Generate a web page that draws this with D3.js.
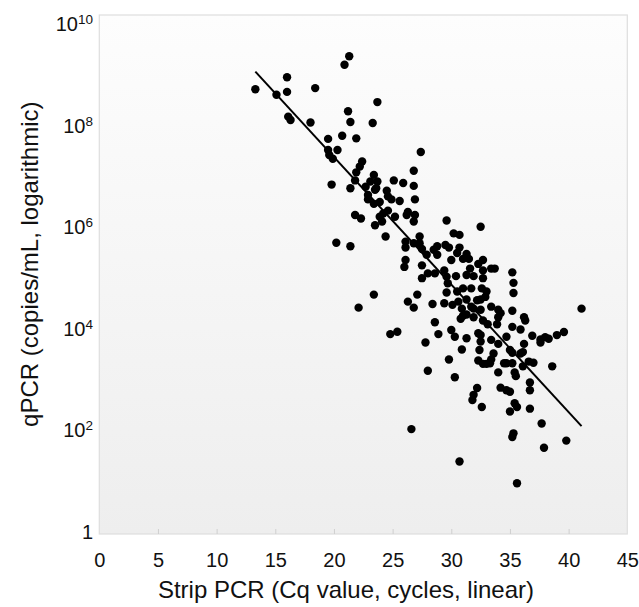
<!DOCTYPE html>
<html><head><meta charset="utf-8">
<script src="https://cdn.jsdelivr.net/npm/d3@7"></script>
<style>
body{margin:0;background:#fff}
svg{display:block}
text{font-family:"Liberation Sans",Arial,Helvetica,sans-serif;fill:#111}
</style>
</head><body>
<svg id="chart" width="639" height="607"></svg>
<script>
// Strip PCR Cq value (cycles)
const cq = [
13.3,15.1,16.0,16.0,16.1,16.3,18.4,18.0,20.9,21.3,
23.7,21.2,21.4,23.3,19.5,20.7,21.9,19.5,20.3,19.6,
19.9,27.4,22.4,22.2,21.9,21.8,19.8,21.4,23.4,23.1,
23.7,25.1,25.9,22.7,23.6,24.5,26.8,26.8,23.5,22.9,
24.6,22.9,23.4,23.9,24.9,25.6,26.9,26.3,26.9,24.6,
24.2,23.9,25.2,26.2,26.8,24.1,23.5,21.8,22.3,24.4,
29.6,32.5,30.2,30.7,20.2,21.4,27.3,26.1,26.1,26.8,
27.3,27.5,28.8,29.5,29.8,30.7,28.5,27.9,28.8,30.5,
31.3,31.5,31.0,30.0,32.7,32.3,26.1,26.0,27.5,29.4,
28.0,28.6,31.6,32.7,33.4,33.7,29.6,30.4,31.3,31.9,
27.5,32.7,29.7,29.6,30.5,31.0,31.7,32.6,33.0,27.1,
23.4,26.3,22.1,26.8,28.4,29.4,30.1,30.6,31.3,31.7,
32.5,32.9,32.2,31.9,32.5,30.9,31.0,30.8,31.3,31.9,
32.7,33.4,34.0,34.2,34.0,35.2,35.2,35.3,35.3,33.9,
35.2,35.9,36.2,36.3,34.7,36.9,37.6,38.0,38.3,39.0,
39.6,41.1,28.6,28.9,30.0,30.3,31.3,32.3,32.5,33.4,
34.0,32.4,33.6,30.9,35.0,35.9,36.1,34.7,35.2,32.3,
32.7,33.3,33.4,34.5,36.6,37.0,38.6,29.8,34.0,35.4,
35.5,36.1,30.3,36.7,36.7,34.2,34.7,35.0,32.2,31.9,
31.8,32.6,35.4,35.6,36.7,35.0,37.7,26.6,35.3,35.2,
37.9,39.8,30.7,35.6,24.8,25.4,27.8,28.0,32.5,33.1,
35.2,36.2,37.6,33.0
];
// qPCR copies/mL
const copies = [
3.7e8,2.9e8,6.3e8,3.3e8,1.1e8,9.5e7,3.9e8,8.5e7,1.1e9,1.6e9,
2.1e8,1.4e8,8.7e7,8.3e7,4.1e7,4.7e7,4.2e7,2.5e7,2.5e7,2.0e7,
1.7e7,2.3e7,1.5e7,1.2e7,9.3e6,6.5e6,5.4e6,4.6e6,8.3e6,6.2e6,
6.2e6,6.5e6,5.8e6,4.9e6,4.6e6,4.1e6,1.0e7,5.1e6,4.3e6,3.4e6,
3.2e6,2.8e6,2.3e6,2.5e6,2.8e6,2.6e6,2.8e6,1.6e6,1.4e6,1.7e6,
1.5e6,1.3e6,1.3e6,1.4e6,1.05e6,1.05e6,8.9e5,1.4e6,1.2e6,5.4e5,
1.1e6,8.3e5,6.2e5,5.8e5,4.1e5,3.5e5,5.4e5,4.3e5,3.3e5,4.0e5,
4.0e5,3.1e5,3.5e5,3.7e5,3.3e5,3.3e5,3.0e5,2.4e5,2.4e5,2.6e5,
2.5e5,2.0e5,2.0e5,1.9e5,1.9e5,1.6e5,1.9e5,1.4e5,1.5e5,1.2e5,
1.05e5,1.05e5,1.3e5,1.2e5,1.3e5,1.3e5,9.1e4,9.3e4,9.8e4,9.3e4,
8.5e4,8.5e4,6.8e4,4.5e4,4.7e4,5.4e4,5.4e4,5.4e4,4.7e4,4.1e4,
4.1e4,3.0e4,2.3e4,2.3e4,2.7e4,2.8e4,2.6e4,3.0e4,3.3e4,2.4e4,
3.3e4,3.7e4,3.2e4,2.2e4,2.1e4,2.2e4,1.6e4,1.4e4,1.7e4,1.5e4,
1.3e4,2.4e4,2.1e4,1.8e4,1.5e4,2.0e4,1.1e5,6.9e4,4.4e4,1.1e4,
9.8e3,8.7e3,1.5e4,1.3e4,6.3e3,6.6e3,5.6e3,6.2e3,5.8e3,6.8e3,
7.8e3,2.2e4,1.2e4,7.1e3,8.5e3,6.3e3,5.9e3,7.4e3,5.1e3,5.5e3,
4.6e3,3.5e3,3.0e3,3.6e3,3.5e3,3.0e3,3.2e3,1.95e3,1.95e3,2.2e3,
1.9e3,1.95e3,2.3e3,1.95e3,2.1e3,2.0e3,1.7e3,2.3e3,1.3e3,1.3e3,
1.1e3,1.7e3,1.05e3,830,590,660,590,550,650,480,
380,280,330,280,260,230,135,105,87,74,
46,63,25,9.5,7.1e3,7.9e3,4.9e3,1.4e3,6.8e3,1.1e4,
3.1e3,4.6e3,4.9e3,1.9e3
];
// regression line end points
const fitCq = [13.3, 41.1];
const fitCopies = [8.1e8, 1.2e2];
// tick labels
const xTickValues = [0,5,10,15,20,25,30,35,40,45];
const yTickValues = [1,1e2,1e4,1e6,1e8,1e10];
const xTitle = "Strip PCR (Cq value, cycles, linear)";
const yTitle = "qPCR (copies/mL, logarithmic)";

const svg = d3.select("#chart");
const box = {left:99.3, right:627.3, top:15, bottom:534};
const x = d3.scaleLinear().domain([0,45]).range([box.left, box.right]);
const y = d3.scaleLog().domain([1,1e10]).range([box.bottom, box.top]);
const yLabel = d3.scaleLog().domain([1,1e10]).range([530.4, 22.5]);

const defs = svg.append("defs");
const grad = defs.append("linearGradient").attr("id","bg").attr("x1",0).attr("y1",0).attr("x2",0).attr("y2",1);
grad.append("stop").attr("offset","0%").attr("stop-color","#fdfdfd");
grad.append("stop").attr("offset","100%").attr("stop-color","#eeeeee");

svg.append("rect")
  .attr("x", box.left).attr("y", box.top)
  .attr("width", box.right-box.left).attr("height", box.bottom-box.top)
  .attr("fill","url(#bg)").attr("stroke","#dedede").attr("stroke-width",1.2);

// x tick marks (inside, from bottom)
const xMarks = svg.append("g").attr("transform",`translate(0,${box.bottom})`)
  .call(d3.axisBottom(x).tickValues(xTickValues.filter(v=>v>0&&v<45)).tickSize(-5).tickFormat(""));
xMarks.select(".domain").remove();
xMarks.selectAll("line").attr("stroke","#cfcfcf");

// x tick labels
const xLab = svg.append("g").attr("transform",`translate(0,${box.bottom})`)
  .call(d3.axisBottom(x).tickValues(xTickValues).tickSize(0).tickFormat(d3.format("d")));
xLab.select(".domain").remove();
xLab.selectAll("text").attr("y", 33).attr("dy", null)
  .style("font-size","20px").style("font-family",'"Liberation Sans",Arial,sans-serif').attr("fill","#111");

// y tick labels
const yAx = svg.append("g").attr("transform","translate(93,0)")
  .call(d3.axisLeft(yLabel).tickValues(yTickValues).tickSize(0).tickPadding(0).tickFormat(""));
yAx.select(".domain").remove();
yAx.selectAll(".tick text").each(function(d){
  const t = d3.select(this).attr("dy", "0.4em").attr("x", 0)
    .style("font-size","20px").style("font-family",'"Liberation Sans",Arial,sans-serif').attr("fill","#111");
  const e = Math.round(Math.log10(d));
  if (e === 0) { t.text("1"); }
  else {
    t.text("10");
    t.append("tspan").attr("dy","-7").style("font-size","13.5px").text(e);
  }
});

// regression line
svg.append("path")
  .datum(fitCq.map((c,i)=>[c, fitCopies[i]]))
  .attr("d", d3.line().x(d=>x(d[0])).y(d=>y(d[1])))
  .attr("stroke","#000").attr("stroke-width",2).attr("fill","none");

// points
svg.append("g").selectAll("circle")
  .data(cq.map((c,i)=>({c, v:copies[i]})))
  .join("circle")
  .attr("cx", d=>x(d.c)).attr("cy", d=>y(d.v)).attr("r", 4.2).attr("fill","#000");

// axis titles
svg.append("text").attr("x", 346).attr("y", 598).attr("text-anchor","middle")
  .style("font-size","24px").text(xTitle);
svg.append("text").attr("transform","translate(38.3,264.2) rotate(-90)").attr("text-anchor","middle")
  .style("font-size","24px").text(yTitle);
</script>
</body></html>
